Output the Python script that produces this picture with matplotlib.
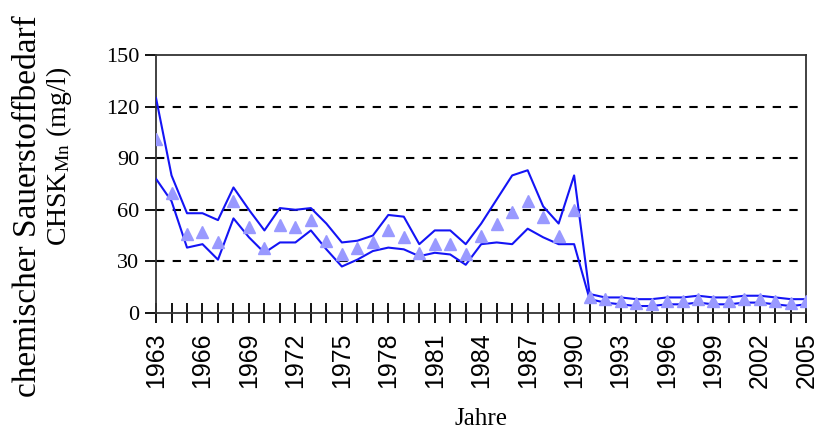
import matplotlib
matplotlib.use("Agg")
import matplotlib.pyplot as plt

plt.rcParams['mathtext.fontset'] = 'stix'

years = list(range(1963, 2006))
upper = [125, 80, 58, 58, 54, 73, 60, 48, 61, 60, 61, 52, 41, 42, 45, 57, 56, 40, 48, 48,
         40, 52, 66, 80, 83, 62, 52, 80, 11, 9, 9, 8, 8, 9, 9, 10, 9, 9, 10, 10, 9, 8, 8]
mean = [101, 70, 46, 47, 41, 65, 50, 38, 51, 50, 54, 42, 34, 38, 41, 48, 44, 35, 40, 40,
        34, 45, 52, 59, 65, 56, 45, 60, 9, 8, 7, 6, 5, 7, 7, 8, 7, 7, 8, 8, 7, 6, 7]
lower = [78, 65, 38, 40, 31, 55, 44, 35, 41, 41, 48, 37, 27, 31, 36, 38, 37, 33, 35, 34,
         28, 40, 41, 40, 49, 44, 40, 40, 8, 6, 5, 4, 4, 5, 5, 6, 5, 5, 6, 6, 5, 4, 5]
yticks = [0, 30, 60, 90, 120, 150]
xlabels = list(range(1963, 2006, 3))

fig = plt.figure(figsize=(8.17, 4.34), dpi=100)
ax = fig.add_axes([0.191, 0.279, 0.796, 0.594])

ax.plot(years, upper, color='#1414f5', lw=1.5, zorder=3)
ax.plot(years, lower, color='#1414f5', lw=1.5, zorder=3)
ax.plot(years, mean, ls='none', marker='^', ms=9, color='#9999ff', zorder=4)

ax.set_xlim(1963, 2005)
ax.set_ylim(0, 150)
ax.set_yticks(yticks)
ax.set_yticklabels([str(v) for v in yticks], family='Liberation Serif', fontsize=16)
ax.set_xticks(years)
ax.set_xticklabels([str(y) if y in xlabels else '' for y in years],
                   rotation=90, family='Liberation Sans', fontsize=18)
ax.tick_params(axis='x', direction='inout', length=14, width=1.3, pad=7)
ax.tick_params(axis='y', direction='out', length=8, width=1.3, pad=4)

for v in yticks[1:-1]:
    ax.axhline(v, color='black', ls=(0, (4, 4)), lw=1.5, zorder=1)

for s in ax.spines.values():
    s.set_linewidth(1.3)
    s.set_color('#333333')

ax.set_xlabel('Jahre', family='Liberation Serif', fontsize=18, labelpad=14)
fig.text(0.034, 0.525, 'chemischer Sauerstoffbedarf', rotation=90, ha='center',
         va='center', family='Liberation Serif', fontsize=24)
fig.text(0.072, 0.64, r'CHSK$_{\mathrm{Mn}}$ (mg/l)', rotation=90, ha='center',
         va='center', family='Liberation Serif', fontsize=20)

fig.savefig('out.png', dpi=100, facecolor='white')
